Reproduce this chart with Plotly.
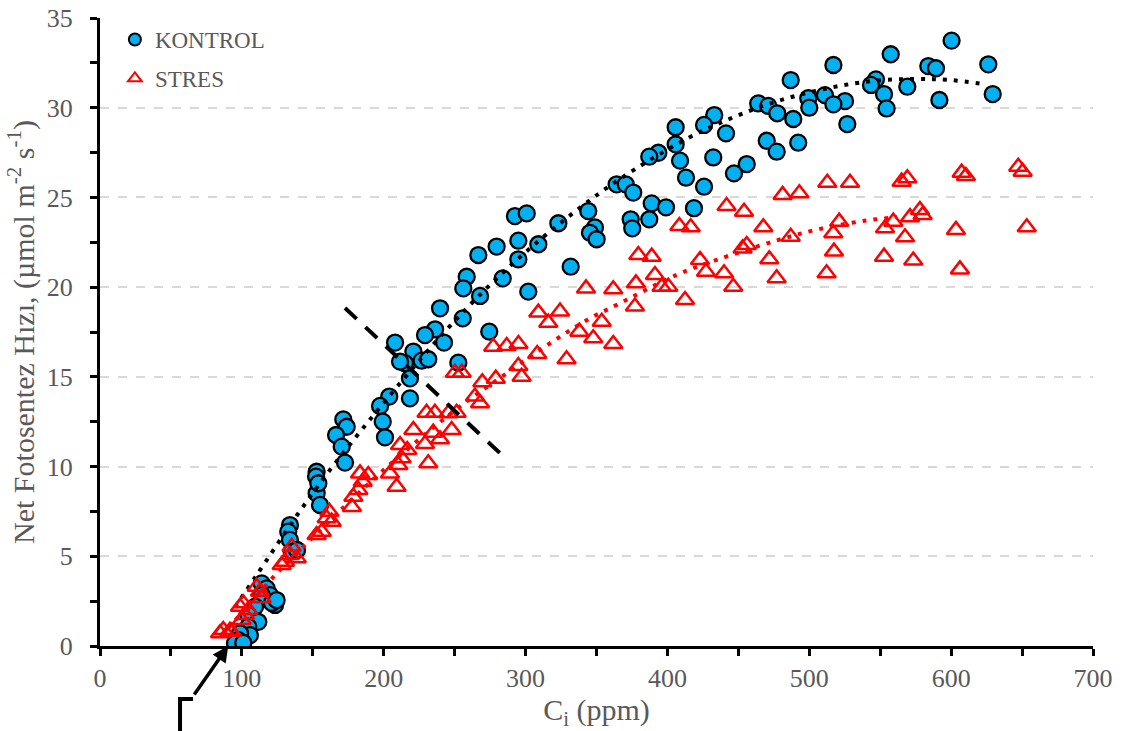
import plotly.graph_objects as go

# ---------------- data ----------------
KONTROL_CI = [600.3, 557.4, 517.0, 626.2, 583.9, 589.3, 486.9, 547.0, 543.5, 569.1,
              629.3, 552.7, 499.3, 511.0, 525.2, 517.0, 500.0, 464.0, 471.1, 477.4,
              488.7, 554.5, 591.7, 526.8, 433.0, 425.8, 405.8, 441.3, 470.0, 477.0,
              492.2, 405.8, 393.6, 387.2, 408.9, 432.3, 455.9, 446.9, 413.1, 425.8,
              364.2, 370.6, 375.9, 388.9, 399.0, 418.7, 374.1, 387.2, 375.2,
              292.5, 300.8, 294.9, 279.6, 266.7, 309.0, 323.1, 294.9, 258.5, 256.1,
              283.9, 267.9, 301.9, 331.8, 344.2, 348.9, 345.4, 350.1,
              239.7, 255.7, 236.2, 229.1, 242.5, 274.4, 208.0, 220.9, 226.7, 231.4,
              215.0, 252.6, 218.5,
              211.5, 218.5, 203.9, 197.4, 199.3, 200.9, 171.5, 173.9, 166.4, 170.4,
              172.7, 152.7, 152.3, 152.7,
              153.9, 155.1, 133.9, 132.7, 133.9, 135.1, 138.9, 114.0, 117.5, 119.8,
              123.4, 114.0, 109.3, 104.5, 111.6, 104.5, 105.7, 98.7, 97.5, 95.2,
              101.0, 121.2, 124.5]
KONTROL_A = [33.74, 32.98, 32.38, 32.42, 32.32, 32.20, 31.54, 31.58, 31.27, 31.17,
             30.76, 30.76, 30.53, 30.70, 30.37, 30.19, 30.00, 30.24, 30.10, 29.69,
             29.37, 29.96, 30.43, 29.09, 29.59, 29.04, 28.91, 28.57, 28.16, 27.55,
             28.05, 27.96, 27.49, 27.27, 27.05, 27.23, 26.86, 26.34, 26.10, 25.60,
             25.73, 25.73, 25.27, 24.67, 24.45, 24.40, 23.78, 23.78, 23.28,
             23.96, 24.11, 22.59, 22.26, 21.79, 22.39, 23.56, 21.55, 20.58, 19.93,
             20.49, 19.51, 19.75, 21.14, 24.24, 23.33, 23.03, 22.67,
             18.82, 18.26, 17.65, 17.33, 16.91, 17.52, 16.91, 16.41, 15.90, 15.98,
             15.76, 15.79, 14.92,
             15.85, 13.80, 13.90, 13.38, 12.50, 11.63, 12.63, 12.22, 11.76, 11.11,
             10.22, 9.71, 9.44, 8.51,
             9.07, 7.86, 6.74, 6.37, 5.91, 5.26, 5.35, 3.49, 3.21, 2.84,
             2.29, 2.84, 2.19, 1.73, 1.35, 1.08, 0.61, 0.71, 0.33, 0.15,
             0.18, 2.40, 2.56]

STRES_CI = [647.3, 650.4, 607.4, 610.4, 569.1, 565.1, 512.7, 528.7, 481.2, 493.0,
            441.7, 454.0, 408.4, 416.4, 467.6, 521.1, 516.9, 578.0, 579.9, 571.0,
            559.2, 553.4, 567.5, 603.4, 653.3, 486.9, 517.4, 552.7, 573.3, 606.2,
            512.2, 471.8, 477.0, 453.0, 455.9, 423.0, 427.2, 439.9, 446.4, 379.5,
            388.9, 391.2, 395.9, 400.6, 412.4, 377.8, 361.8, 377.1,
            342.6, 309.0, 324.3, 316.0, 353.7, 337.9, 347.7, 361.8, 277.2, 286.7,
            295.0, 308.2, 328.9, 294.9, 297.2, 250.2, 255.0, 279.0, 269.5,
            264.3, 267.9, 230.2, 236.1, 245.5, 251.4, 220.9, 234.9, 247.9, 239.7,
            229.1, 211.5, 216.6, 231.4, 212.6, 210.3, 209.1, 204.4, 189.1, 183.3,
            185.2, 182.1, 178.6,
            177.6, 161.7, 159.8, 163.3, 156.3, 152.7, 135.1, 133.9, 138.7, 130.4,
            128.1, 110.5, 112.8, 114.0, 101.0, 98.7, 104.5, 102.2, 99.9, 86.9,
            91.6, 84.6, 92.8]
STRES_A = [26.71, 26.43, 26.38, 26.19, 26.07, 25.88, 25.82, 25.82, 25.14, 25.23,
           24.52, 24.20, 23.41, 23.34, 23.34, 23.65, 23.00, 24.30, 24.02, 23.90,
           23.65, 23.28, 22.78, 23.19, 23.34, 22.81, 21.98, 21.70, 21.48, 20.99,
           20.77, 21.55, 20.49, 22.16, 22.35, 21.51, 20.86, 20.77, 20.02, 21.79,
           21.70, 20.68, 20.02, 20.02, 19.28, 20.21, 19.88, 18.92,
           19.93, 18.58, 18.64, 18.02, 18.07, 17.52, 17.15, 16.83, 16.68, 16.72,
           16.83, 16.27, 15.98, 15.60, 15.00, 15.23, 15.23, 14.90, 14.70,
           13.90, 13.53, 13.00, 13.00, 12.97, 13.00, 12.04, 11.89, 12.04, 11.52,
           11.26, 11.20, 10.92, 10.18, 10.46, 10.09, 8.88, 9.62, 9.53, 9.62,
           9.16, 8.69, 8.32,
           7.75, 7.48, 7.12, 6.93, 6.37, 6.19, 5.53, 5.07, 4.89, 4.70,
           4.51, 3.30, 3.03, 2.66, 2.38, 2.19, 2.01, 1.73, 1.45, 0.89,
           0.85, 0.71, 0.80]

# trend lines
KONTROL_TREND_CI = [95, 110, 139, 162, 185, 210, 244, 272, 300, 333, 366, 412,
                    446, 479, 514, 546, 575, 598, 625]
KONTROL_TREND_A = [2.15, 3.9, 7.3, 9.8, 12.1, 14.5, 17.6, 19.9, 21.95, 24.1, 26.0,
                   28.2, 29.45, 30.4, 31.1, 31.5, 31.6, 31.55, 31.3]
STRES_TREND_CI = [85, 100, 124, 148, 170, 197, 230, 258, 283, 314, 344, 364, 407,
                  434, 477, 505, 539, 562]
STRES_TREND_A = [0.5, 1.85, 4.0, 5.9, 7.6, 9.6, 11.85, 13.6, 15.0, 16.7, 18.2,
                 19.0, 20.7, 21.5, 22.6, 23.2, 23.7, 23.9]

X_TICKS = [0, 100, 200, 300, 400, 500, 600, 700]
X_TICK_TEXT = ["0", "100", "200", "300", "400", "500", "600", "700"]
X_MINOR = [50, 150, 250, 350, 450, 550, 650]
Y_TICKS = [0, 5, 10, 15, 20, 25, 30, 35]
Y_TICK_TEXT = ["0", "5", "10", "15", "20", "25", "30", "35"]
Y_MINOR = [2.5, 7.5, 12.5, 17.5, 22.5, 27.5, 32.5]

GUIDE_CI = [172.7, 283.3]
GUIDE_A = [18.84, 10.65]
ARROW_CI = 90.4
ARROW_A = 0.0

GREY = "#595959"
FONT = "Liberation Serif"

fig = go.Figure()
fig.add_trace(go.Scatter(
    x=KONTROL_CI, y=KONTROL_A, mode="markers", name="KONTROL", legendgroup="k",
    marker=dict(symbol="circle", size=16, color="#00B0F0",
                line=dict(color="black", width=2.3))))
fig.add_trace(go.Scatter(
    x=KONTROL_TREND_CI, y=KONTROL_TREND_A, mode="lines", showlegend=False,
    hoverinfo="skip",
    line=dict(color="black", width=4, dash="4px,7px", shape="spline")))
fig.add_trace(go.Scatter(
    x=STRES_CI, y=STRES_A, mode="markers", name="STRES", legendgroup="s",
    marker=dict(symbol="triangle-up-open", size=16, color="#FF0000",
                line=dict(color="#FF0000", width=2.5))))
fig.add_trace(go.Scatter(
    x=STRES_TREND_CI, y=STRES_TREND_A, mode="lines", showlegend=False,
    hoverinfo="skip",
    line=dict(color="#FF0000", width=4, dash="4px,7px", shape="spline")))

tick_common = dict(showline=True, linecolor="black", linewidth=3, ticks="outside",
                   ticklen=7, tickwidth=2.5, tickcolor="black", zeroline=False,
                   automargin=False,
                   tickfont=dict(family=FONT, size=26, color=GREY))

fig.update_layout(
    width=1124, height=731,
    margin=dict(l=100, r=31, t=18, b=85),
    paper_bgcolor="white", plot_bgcolor="white",
    font=dict(family=FONT, color=GREY),
    showlegend=True,
    legend=dict(x=0.015, y=1.0, xanchor="left", yanchor="top",
                font=dict(family=FONT, size=23, color=GREY),
                bgcolor="rgba(0,0,0,0)", traceorder="grouped",
                tracegroupgap=6, itemsizing="constant"),
    xaxis=dict(range=[0, 700], tickmode="array", tickvals=X_TICKS,
               ticktext=X_TICK_TEXT, showgrid=False, ticklabelstandoff=0,
               minor=dict(tickmode="array", tickvals=X_MINOR, ticks="outside",
                          ticklen=7, tickwidth=2.5, tickcolor="black",
                          showgrid=False),
               title=dict(text="C<sub>i</sub> (ppm)",
                          font=dict(family=FONT, size=30, color=GREY),
                          standoff=0),
               **tick_common),
    yaxis=dict(range=[0, 35], tickmode="array", tickvals=Y_TICKS,
               ticktext=Y_TICK_TEXT, showgrid=True, gridcolor="#D9D9D9",
               gridwidth=1.5, griddash="dash", ticklabelstandoff=12,
               minor=dict(tickmode="array", tickvals=Y_MINOR, ticks="outside",
                          ticklen=7, tickwidth=2.5, tickcolor="black",
                          showgrid=False),
               title=dict(text="Net Fotosentez Hızı, (µmol m<sup>-2</sup> s<sup>-1</sup>)",
                          font=dict(family=FONT, size=30, color=GREY),
                          standoff=4),
               **tick_common),
)

# dashed guide line
fig.add_shape(type="line", xref="x", yref="y",
              x0=GUIDE_CI[0], y0=GUIDE_A[0], x1=GUIDE_CI[1], y1=GUIDE_A[1],
              line=dict(color="black", width=4, dash="16px,12px"))

# arrow pointing at the compensation point
fig.add_annotation(x=ARROW_CI, y=ARROW_A, xref="x", yref="y", ax=-35, ay=50,
                   axref="pixel", ayref="pixel", text="", showarrow=True,
                   arrowhead=2, arrowsize=0.9, arrowwidth=3.5,
                   arrowcolor="black", standoff=0)
# "Γ" shaped mark at the arrow tail
fig.add_shape(type="path", xref="paper", yref="paper",
              path="M 0.0937,-0.0844 L 0.0806,-0.0844 L 0.0806,-0.1354",
              line=dict(color="black", width=4))

fig.write_html("out.html")
